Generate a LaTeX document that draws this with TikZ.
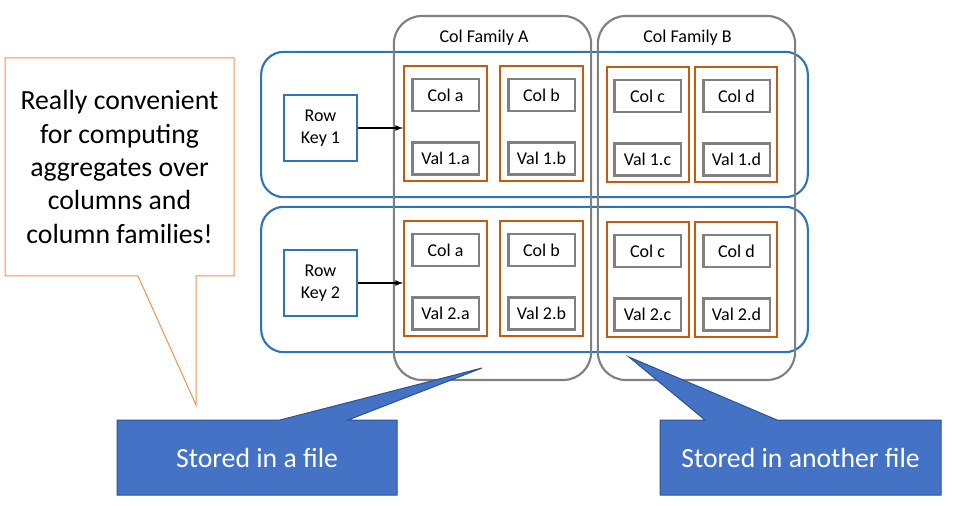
\documentclass[tikz,border=0pt]{standalone}
\usepackage{fontspec}
\setmainfont{Carlito}
\usepackage{tikz}
\usetikzlibrary{arrows}
\definecolor{row_blue}{RGB}{46, 117, 182}
\definecolor{fam_gray}{RGB}{128, 128, 128}
\definecolor{col_orange}{RGB}{197, 90, 17}
\definecolor{note_orange}{RGB}{241, 146, 80}
\definecolor{file_blue}{RGB}{68, 114, 196}
\definecolor{file_edge}{RGB}{47, 82, 143}
\tikzstyle{rowbox}=[rectangle,rounded corners=17pt,draw=row_blue,
  line width=1.6pt,minimum width=410pt,minimum height=109pt]
\tikzstyle{fambox}=[rectangle,rounded corners=21pt,draw=fam_gray,
  line width=1.6pt,minimum width=148pt,minimum height=273pt]
\tikzstyle{keyn}=[rectangle,draw=row_blue,line width=1.5pt,align=center,
  minimum width=55pt,minimum height=49.5pt,font=\fontsize{13.5}{16.5}\selectfont]
\tikzstyle{coln}=[rectangle,draw=col_orange,line width=1.7pt,
  minimum width=62pt,minimum height=86pt]
\tikzstyle{celln}=[rectangle,draw=fam_gray,line width=2pt,
  minimum width=50pt,minimum height=24pt,font=\fontsize{13.5}{16}\selectfont]
\tikzstyle{famtext}=[font=\fontsize{13.5}{16}\selectfont]
\tikzstyle{note}=[draw=note_orange,line width=0.75pt,fill=white]
\tikzstyle{filenote}=[draw=file_edge,line width=0.75pt,fill=file_blue]
\tikzstyle{bigtext}=[font=\fontsize{20.8}{25}\selectfont,align=center]

\begin{document}
\begin{tikzpicture}[x=0.75pt,y=-0.75pt]
    \useasboundingbox (0,0) rectangle (954,506);
    % rows
    \node [style=rowbox] (row1) at (534.5,124.5) {};
    \node [style=rowbox] (row2) at (534.5,279.5) {};
    % column families
    \node [style=fambox] (famA) at (492.5,198) {};
    \node [style=fambox] (famB) at (696.5,198) {};
    \node [style=famtext] (famAlabel) at (484,38) {Col Family A};
    \node [style=famtext] (famBlabel) at (687.5,38) {Col Family B};
    % row keys
    \node [style=keyn] (key1) at (320.5,128) {Row\\Key 1};
    \node [style=keyn] (key2) at (320.5,283) {Row\\Key 2};
    % columns, row 1
    \node [style=coln] (colA1) at (445.5,123.5) {};
    \node [style=coln] (colB1) at (541.5,123.5) {};
    \node [style=coln] (colC1) at (648,124.5) {};
    \node [style=coln] (colD1) at (736,124.5) {};
    \node [style=celln] (nameA1) at (445.5,95) {Col a};
    \node [style=celln] (nameB1) at (541.5,95) {Col b};
    \node [style=celln] (nameC1) at (647.5,96) {Col c};
    \node [style=celln] (nameD1) at (736.5,96) {Col d};
    \node [style=celln] (valA1) at (445.5,158.5) {Val 1.a};
    \node [style=celln] (valB1) at (541.5,158.5) {Val 1.b};
    \node [style=celln] (valC1) at (647.5,159.5) {Val 1.c};
    \node [style=celln] (valD1) at (736.5,159.5) {Val 1.d};
    % columns, row 2
    \node [style=coln] (colA2) at (445.5,278.5) {};
    \node [style=coln] (colB2) at (541.5,278.5) {};
    \node [style=coln] (colC2) at (648,279.5) {};
    \node [style=coln] (colD2) at (736,279.5) {};
    \node [style=celln] (nameA2) at (445.5,250) {Col a};
    \node [style=celln] (nameB2) at (541.5,250) {Col b};
    \node [style=celln] (nameC2) at (647.5,251) {Col c};
    \node [style=celln] (nameD2) at (736.5,251) {Col d};
    \node [style=celln] (valA2) at (445.5,313.5) {Val 2.a};
    \node [style=celln] (valB2) at (541.5,313.5) {Val 2.b};
    \node [style=celln] (valC2) at (647.5,314.5) {Val 2.c};
    \node [style=celln] (valD2) at (736.5,314.5) {Val 2.d};
    \draw [->, >=latex, line width=1pt] (key1.east) to (key1.east -| colA1.west);
    \draw [->, >=latex, line width=1pt] (key2.east) to (key2.east -| colA2.west);
    % callouts
    \draw [style=note] (5,58) -- (234,58) -- (234,276) -- (196,276) -- (196,405)
      -- (138,276) -- (5,276) -- cycle;
    \node [style=bigtext] (notetext) at (119.5,167) {Really convenient\\for computing\\aggregates over\\columns and\\column families!};
    \draw [style=filenote] (117,420) -- (280,420) -- (482,368) -- (348,420)
      -- (397,420) -- (397,495) -- (117,495) -- cycle;
    \node [style=bigtext, text=white] (fileA) at (257,458) {Stored in a file};
    \draw [style=filenote] (660,420) -- (705,420) -- (629,357) -- (777,420)
      -- (941,420) -- (941,495) -- (660,495) -- cycle;
    \node [style=bigtext, text=white] (fileB) at (800.5,458) {Stored in another file};
  \end{tikzpicture}
\end{document}
